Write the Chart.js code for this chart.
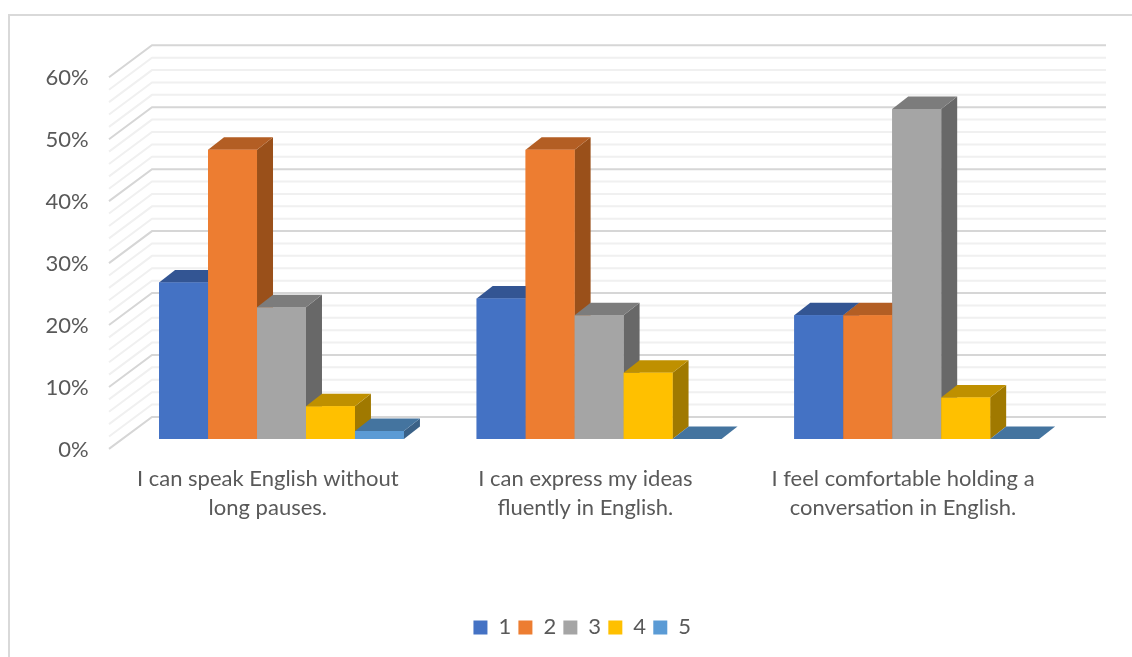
<!DOCTYPE html>
<html>
<head>
<meta charset="utf-8">
<style>
  html, body { margin: 0; padding: 0; background: #fff; }
  canvas { display: block; }
</style>
<script src="https://cdn.jsdelivr.net/npm/chart.js@4/dist/chart.umd.min.js"></script>
</head>
<body>
<canvas id="myChart" width="1132" height="657"></canvas>
<script>
const categories = [
    ['I can speak English without', 'long pauses.'],
    ['I can express my ideas', 'fluently in English.'],
    ['I feel comfortable holding a', 'conversation in English.']
];
const series1 = [25.3, 22.7, 20];
const series2 = [46.7, 46.7, 20];
const series3 = [21.3, 20, 53.3];
const series4 = [5.3, 10.7, 6.7];
const series5 = [1.3, 0, 0];
const seriesNames = ['1', '2', '3', '4', '5'];
const colors = ['#4472C4', '#ED7D31', '#A5A5A5', '#FFC000', '#5B9BD5'];
const topColors = ['#335593', '#B35E24', '#7C7C7C', '#BF9000', '#44749F'];
const sideColors = ['#2B4A7C', '#9A501A', '#686868', '#A07900', '#3A6187'];

const fontFamily = 'Lato';
const textColor = '#595959';

// fake 3D: walls and gridlines sit behind the bar plane, axis corner in front of it
const depthX = 16, depthY = 12.5;
const wall = { backX: 29.3, backY: -22.2, frontX: -13.7, frontY: 9.8, right: 1106 };

function poly(ctx, color, pts) {
    ctx.fillStyle = color;
    ctx.beginPath();
    pts.forEach((p, i) => i ? ctx.lineTo(p[0], p[1]) : ctx.moveTo(p[0], p[1]));
    ctx.closePath();
    ctx.fill();
}

const frame3d = {
    id: 'frame3d',
    afterLayout(chart) {
        // legend is centred on the picture's plot, not on the scale boxes
        chart.legend.left += 24.5;
        chart.legend.right += 24.5;
    },
    beforeDraw(chart) {
        const ctx = chart.ctx;
        ctx.save();
        ctx.strokeStyle = '#d9d9d9';
        ctx.lineWidth = 2;
        ctx.strokeRect(9, 15, 1140, 660);
        ctx.restore();
    },
    beforeDatasetsDraw(chart) {
        const ctx = chart.ctx, y = chart.scales.y, left = chart.chartArea.left;
        ctx.save();
        for (let v = 0; v <= 60; v += 2) {
            const py = y.getPixelForValue(v);
            ctx.strokeStyle = v % 10 === 0 ? '#d6d6d6' : '#f0f0f0';
            ctx.lineWidth = 2;
            ctx.beginPath();
            ctx.moveTo(left + wall.frontX, py + wall.frontY);
            ctx.lineTo(left + wall.backX, py + wall.backY);
            ctx.lineTo(wall.right, py + wall.backY);
            ctx.stroke();
        }
        ctx.restore();
    },
    afterDatasetsDraw(chart) {
        const ctx = chart.ctx;
        // redraw left to right so each bar covers the side of the one before it
        chart.data.datasets.forEach((ds, i) => {
            chart.getDatasetMeta(i).data.forEach(bar => {
                const l = bar.x - bar.width / 2, r = bar.x + bar.width / 2;
                poly(ctx, sideColors[i], [[r, bar.y], [r + depthX, bar.y - depthY], [r + depthX, bar.base - depthY], [r, bar.base]]);
                poly(ctx, topColors[i], [[l, bar.y], [l + depthX, bar.y - depthY], [r + depthX, bar.y - depthY], [r, bar.y]]);
                bar.draw(ctx);
            });
        });
    }
};

const allSeries = [series1, series2, series3, series4, series5];

new Chart(document.getElementById('myChart'), {
    type: 'bar',
    data: {
        labels: categories,
        datasets: allSeries.map((values, i) => ({
            label: seriesNames[i],
            data: values,
            backgroundColor: colors[i],
            borderWidth: 0,
            categoryPercentage: 0.771,
            barPercentage: 1
        }))
    },
    options: {
        responsive: false,
        animation: false,
        layout: {
            autoPadding: false,
            padding: { left: 40, right: 56.5, top: 67.5, bottom: 8.6 }
        },
        plugins: {
            tooltip: { enabled: false },
            legend: {
                position: 'bottom',
                labels: {
                    boxWidth: 14,
                    boxHeight: 14,
                    padding: 7.2,
                    color: textColor,
                    font: { family: fontFamily, size: 22 }
                }
            }
        },
        scales: {
            x: {
                grid: { display: false },
                border: { display: false },
                afterFit(scale) { scale.height = 170.1; },
                ticks: {
                    autoSkip: false,
                    maxRotation: 0,
                    minRotation: 0,
                    labelOffset: -13.7,
                    padding: 17,
                    color: textColor,
                    font: { family: fontFamily, size: 22, lineHeight: 1.32 }
                }
            },
            y: {
                min: 0,
                max: 60,
                grid: { display: false },
                border: { display: false },
                afterFit(scale) { scale.width = 82.7; },
                ticks: {
                    stepSize: 10,
                    labelOffset: 10.5,
                    padding: 26,
                    color: textColor,
                    font: { family: fontFamily, size: 22 },
                    callback: v => v + '%'
                }
            }
        }
    },
    plugins: [frame3d]
});
</script>
</body>
</html>
